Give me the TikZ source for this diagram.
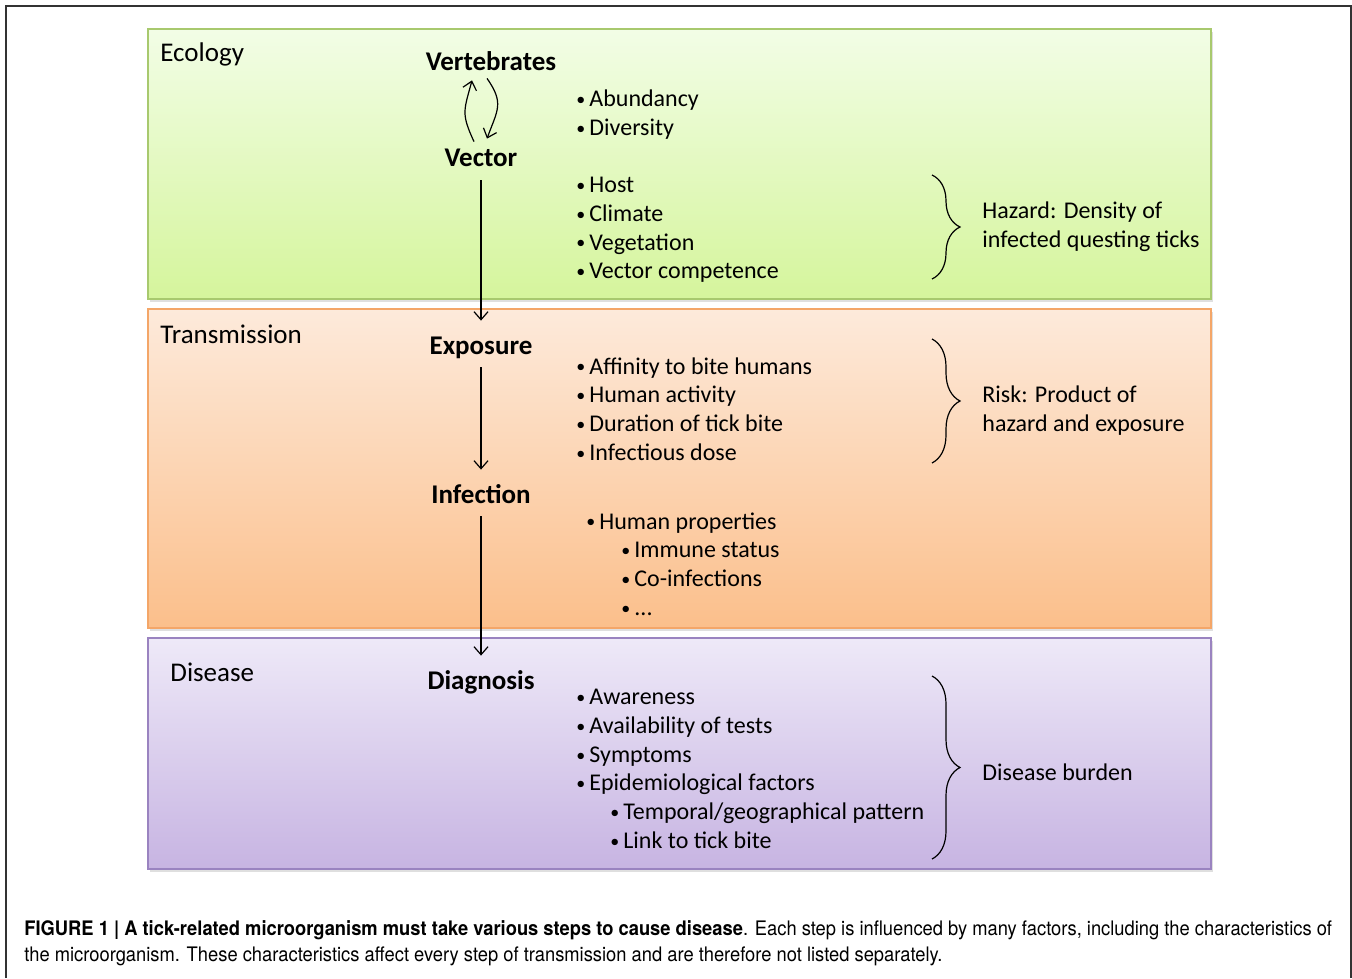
\documentclass[tikz,border=0pt]{standalone}
\usepackage{fontspec}
\setmainfont{Carlito}
\newfontfamily\capfont[FakeStretch=0.917]{TeX Gyre Heros}
\usetikzlibrary{arrows.meta,decorations.pathreplacing,shadows}
\tikzset{>={Straight Barb[length=4pt,width=7pt]}}
\definecolor{ecoline}{HTML}{A8C96E}
\definecolor{ecotop}{HTML}{F2FDE6}
\definecolor{ecobot}{HTML}{D5F59C}
\definecolor{transline}{HTML}{F4A668}
\definecolor{transtop}{HTML}{FDEADB}
\definecolor{transbot}{HTML}{FBBF8B}
\definecolor{disline}{HTML}{9A83C0}
\definecolor{distop}{HTML}{EEE9F8}
\definecolor{disbot}{HTML}{C7B4E2}
\newcommand{\bul}[1]{\makebox[7pt][l]{\hspace*{0.5pt}\raisebox{0.6pt}{\fontsize{9}{9}\selectfont\textbullet}}#1}

\begin{document}
\begin{tikzpicture}[x=0.5pt,y=-0.5pt,
  every node/.style={inner sep=0pt},
  area/.style={line width=0.9pt, drop shadow={opacity=0.25,shadow xshift=1pt,shadow yshift=-1.5pt}},
  steptext/.style={font=\bfseries\fontsize{13.5}{14.35}\selectfont, text height=9.5pt, text depth=3.5pt},
  areatext/.style={font=\fontsize{13.5}{14.35}\selectfont, anchor=west},
  listtext/.style={font=\fontsize{12}{14.35}\selectfont, anchor=west, align=left},
  flow/.style={->, line width=0.6pt, shorten <=3pt, shorten >=7pt},
  curly/.style={decorate, line width=0.6pt, decoration={brace, amplitude=14pt}}]

  \useasboundingbox (0,0) rectangle (1352,978);
  \draw[line width=0.75pt, draw=black!80] (6,978) -- (6,6) -- (1351,6) -- (1351,978);

  % the three areas
  \draw[area, draw=ecoline, top color=ecotop, bottom color=ecobot] (148,29) rectangle (1211,299);
  \draw[area, draw=transline, top color=transtop, bottom color=transbot] (148,309) rectangle (1211,628);
  \draw[area, draw=disline, top color=distop, bottom color=disbot] (148,638) rectangle (1211,869);

  \node[areatext] (ecology) at (160,54) {Ecology};
  \node[areatext] (transmission) at (160,334) {Transmission};
  \node[areatext] (disease) at (170,672) {Disease};

  % steps
  \node[steptext] (vert) at (491,65) {Vertebrates};
  \node[steptext] (vec) at (481,161) {Vector};
  \node[steptext] (expo) at (481,348) {Exposure};
  \node[steptext] (infec) at (481,497) {Infection};
  \node[steptext] (diag) at (481,683) {Diagnosis};

  \draw[->, line width=0.6pt] ([xshift=-3.5pt,yshift=3pt]vec.north)
    to[out=115,in=255,looseness=1.3] ([xshift=-9.5pt,yshift=-1pt]vert.south);
  \draw[->, line width=0.6pt] ([xshift=-2pt,yshift=0pt]vert.south)
    to[out=-55,in=70,looseness=1.3] ([xshift=3pt,yshift=4.5pt]vec.north);
  \draw[flow] (vec) -- (expo);
  \draw[flow] (expo) -- (infec);
  \draw[flow] (infec) -- (diag);

  % factors
  \node[listtext] (abund) at (575,114.5) {\bul{Abundancy}\\\bul{Diversity}};
  \node[listtext] (host) at (575,230)
    {\bul{Host}\\\bul{Climate}\\\bul{Vegetation}\\\bul{Vector competence}};
  \node[listtext] (affin) at (575,409)
    {\bul{Affinity to bite humans}\\\bul{Human activity}\\\bul{Duration of tick bite}\\\bul{Infectious dose}};
  \node[listtext] (human) at (585,564)
    {\bul{Human properties}\\\hspace*{17.5pt}\bul{Immune status}\\
     \hspace*{17.5pt}\bul{Co-infections}\\\hspace*{17.5pt}\bul{...}};
  \node[listtext] (aware) at (575,769)
    {\bul{Awareness}\\\bul{Availability of tests}\\\bul{Symptoms}\\\bul{Epidemiological factors}\\
     \hspace*{17pt}\bul{Temporal/geographical pattern}\\\hspace*{17pt}\bul{Link to tick bite}};

  % outcomes
  \draw[curly] (932,175) -- (932,279);
  \draw[curly] (932,339) -- (932,463);
  \draw[curly] (932,676) -- (932,859);
  \node[listtext] (hazard) at (982,226.5) {Hazard: Density of\\infected questing ticks};
  \node[listtext] (risk) at (982,410.5) {Risk: Product of\\hazard and exposure};
  \node[listtext] (burden) at (982,772) {Disease burden};

  \node[anchor=base west, font=\capfont\fontsize{10}{13}\selectfont] (cap1) at (24,935)
    {\textbf{FIGURE 1 | A tick-related microorganism must take various steps to cause disease}. Each step is influenced by many factors, including the characteristics of};
  \node[anchor=base west, font=\capfont\fontsize{10}{13}\selectfont] (cap2) at (24,961)
    {the microorganism. These characteristics affect every step of transmission and are therefore not listed separately.};
\end{tikzpicture}
\end{document}
